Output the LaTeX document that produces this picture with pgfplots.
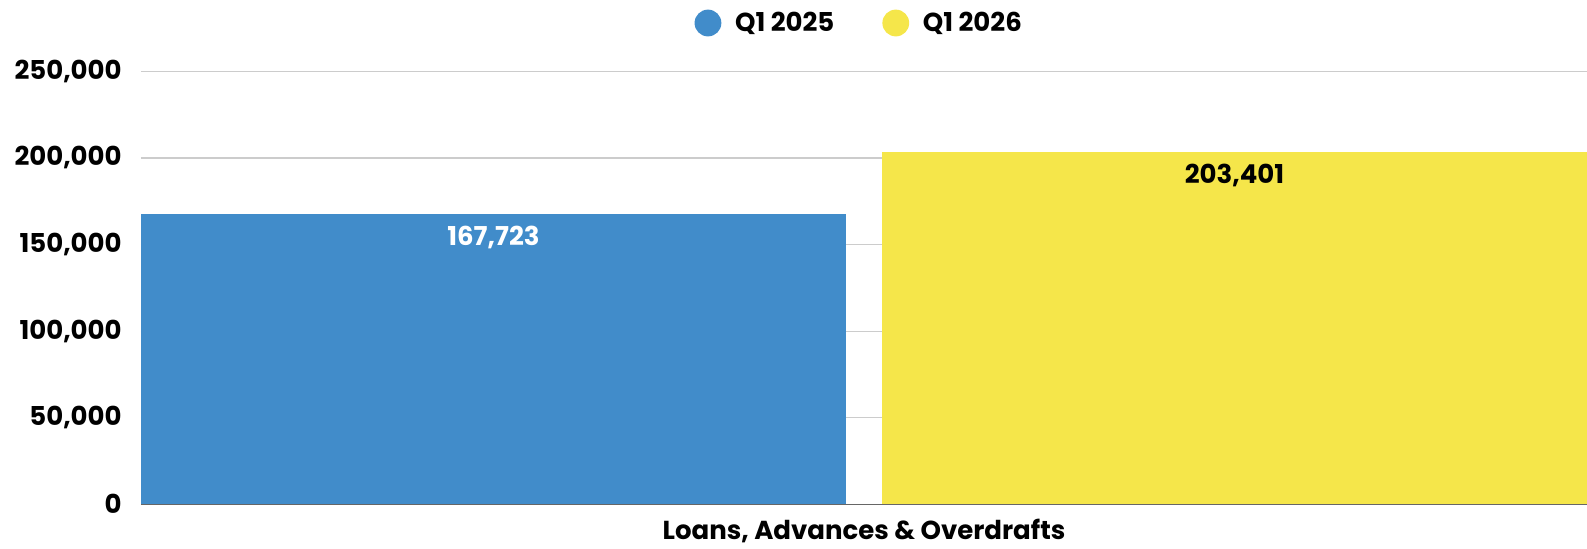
\documentclass[border=0pt]{standalone}
\usepackage{pgfplots}
\pgfplotsset{compat=1.18}
\usepackage{fontspec}
\setmainfont{Poppins}
\definecolor{cblue}{HTML}{418CCA}
\definecolor{cyellow}{HTML}{F5E64A}
\definecolor{cgrid}{HTML}{CCCCCC}
\begin{document}
\begin{tikzpicture}
\useasboundingbox (-70.5pt,-21.85pt) rectangle (723pt,252.15pt);
\begin{axis}[
  at={(0pt,0pt)}, anchor=south west,
  scale only axis,
  width=723pt, height=216.5pt,
  xmin=-723, xmax=723,
  ymin=0, ymax=250000,
  ybar, bar width=352.5pt,
  ytick={0,50000,100000,150000,200000,250000},
  xtick={0},
  xticklabels={Loans{,} Advances \& Overdrafts},
  /pgf/number format/assume math mode=true,
  /pgf/number format/1000 sep={,},
  /pgf/number format/fixed,
  scaled y ticks=false,
  ymajorgrids,
  grid style={cgrid, line width=0.6pt},
  major tick length=0pt,
  axis x line*=bottom,
  axis y line*=left,
  y axis line style={draw=none},
  x axis line style={draw=black!60, line width=0.6pt},
  tick label style={font=\fontsize{13}{16}\selectfont\bfseries},
  yticklabel style={inner sep=0pt, xshift=-9.5pt},
  xticklabel style={inner sep=0pt, yshift=-7pt},
  nodes near coords,
  every node near coord/.append style={font=\fontsize{13}{16}\selectfont\bfseries, anchor=north, inner sep=0pt, yshift=-6pt},
  legend columns=2,
  legend style={draw=none, fill=none, font=\fontsize{13}{16}\selectfont\bfseries,
    at={([yshift=24.15pt]axis description cs:0.496,1)}, anchor=center,
    nodes={inner sep=0pt},
    column sep=6.85pt,
    /tikz/every even column/.append style={column sep=24pt}},
  legend image code/.code={\fill[#1] (6.7pt,0pt) circle (6.7pt);},
]
\addplot[fill=cblue, draw=none, bar shift=-185.25pt, every node near coord/.append style={text=white}] coordinates {(0,167723)};
\addplot[fill=cyellow, draw=none, bar shift=185.25pt, every node near coord/.append style={text=black}] coordinates {(0,203401)};
\legend{Q1 2025, Q1 2026}
\end{axis}
\end{tikzpicture}
\end{document}
